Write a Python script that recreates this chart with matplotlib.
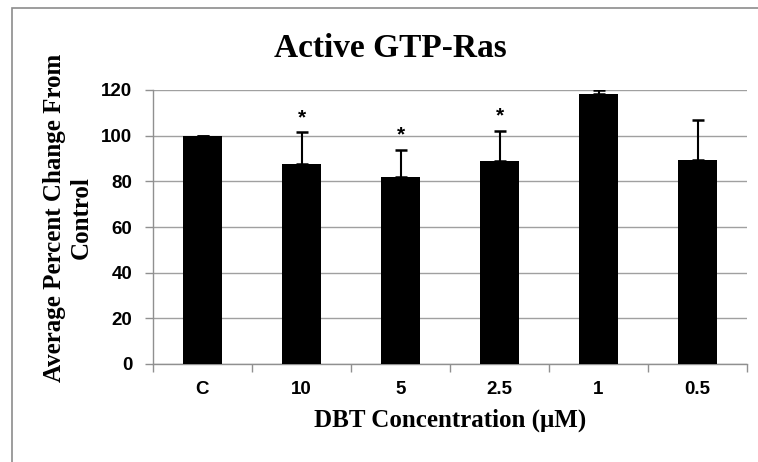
import numpy as np
import matplotlib.pyplot as plt
from matplotlib.patches import Rectangle

# Datos del grafico
concentraciones = ['C', '10', '5', '2.5', '1', '0.5']
promedios = [100, 87.8, 82.0, 88.7, 118.3, 89.2]
errores = [0, 13.7, 11.9, 13.5, 1.7, 17.8]
significativo = [False, True, True, True, False, False]

fig = plt.figure(figsize=(7.58, 4.62), dpi=100)
ax = fig.add_axes([153/758, 98/462, 594/758, 274/462])

x = np.arange(len(concentraciones))
ax.bar(x, promedios, width=0.39, color='black', zorder=3)
ax.errorbar(x, promedios, yerr=[np.zeros(len(errores)), errores], fmt='none',
            ecolor='black', elinewidth=1.5, capsize=4.5, capthick=1.8, zorder=4)

# asteriscos sobre las barras significativas
for i in range(len(x)):
    if significativo[i]:
        ax.annotate('*', (x[i], promedios[i] + errores[i]), xytext=(0, 6.5),
                     textcoords='offset points', ha='center', va='baseline',
                     fontsize=15, fontweight='bold', family='Liberation Sans')

ax.set_xlim(-0.5, len(x) - 0.5)
ax.set_ylim(0, 120)
ax.set_yticks(np.arange(0, 121, 20))
ax.yaxis.grid(True, color='#a0a0a0', linewidth=1, zorder=0)

ax.set_xticks(x)
ax.set_xticklabels(concentraciones)
ax.set_xticks(np.arange(-0.5, len(x), 1), minor=True)
ax.tick_params(axis='x', which='major', length=0, pad=12)
ax.tick_params(axis='x', which='minor', length=6, color='#909090', width=1)
ax.tick_params(axis='y', length=6, color='#909090', width=1, pad=9)
for t in ax.get_xticklabels() + ax.get_yticklabels():
    t.set_family('Liberation Sans')
    t.set_fontsize(13.5)
    t.set_fontweight('bold')

for s in ['top', 'right']:
    ax.spines[s].set_visible(False)
for s in ['left', 'bottom']:
    ax.spines[s].set_color('#909090')
    ax.spines[s].set_linewidth(1)

fig.text(390/758, (462 - 57)/462, 'Active GTP-Ras', ha='center', va='baseline',
         family='Liberation Serif', fontweight='bold', fontsize=24)
fig.text(450/758, (462 - 427)/462, 'DBT Concentration (μM)', ha='center', va='baseline',
         family='Liberation Serif', fontweight='bold', fontsize=18)
fig.text(68/758, (462 - 218)/462, 'Average Percent Change From\nControl', ha='center',
         va='center', rotation=90, multialignment='center', linespacing=1.2,
         family='Liberation Serif', fontweight='bold', fontsize=18)

# marco del area del grafico
fig.patches.append(Rectangle((12/758, -0.1), 1.2, (462 - 8)/462 + 0.1, transform=fig.transFigure,
                             fill=False, edgecolor='#8c8c8c', linewidth=1.2, clip_on=False))

plt.savefig('out.png', dpi=100)
